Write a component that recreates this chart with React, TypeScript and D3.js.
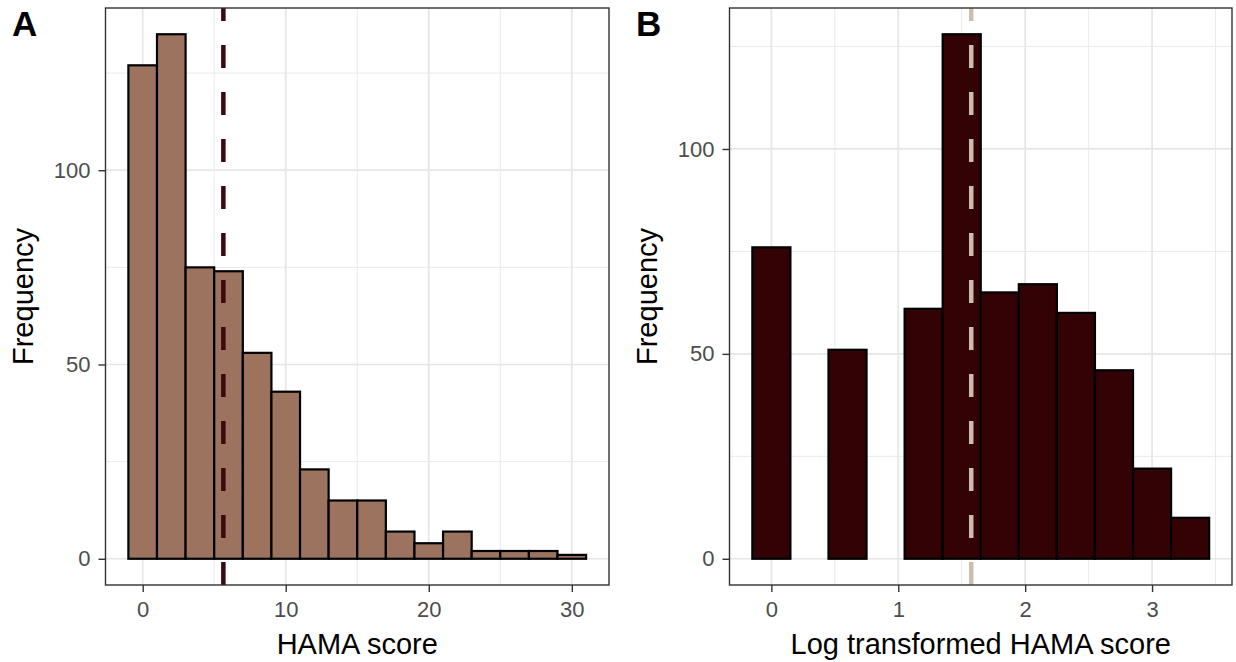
import React, { useEffect, useRef } from 'react';
import * as d3 from 'd3';

const FONT = '"Liberation Sans", Arial, Helvetica, sans-serif';

// panel A: raw HAMA score, binwidth 2
const hamaCenters = [0, 2, 4, 6, 8, 10, 12, 14, 16, 18, 20, 22, 24, 26, 28, 30];
const hamaCounts = [127, 135, 75, 74, 53, 43, 23, 15, 15, 7, 4, 7, 2, 2, 2, 1];
const hamaBinWidth = 2;
const hamaMean = 5.64;
const hamaTicks = [0, 10, 20, 30];
const hamaMinor = [5, 15, 25];

// panel B: log transformed HAMA score, binwidth 0.3
const logCenters = [0, 0.3, 0.6, 0.9, 1.2, 1.5, 1.8, 2.1, 2.4, 2.7, 3.0, 3.3];
const logCounts = [76, 0, 51, 0, 61, 128, 65, 67, 60, 46, 22, 10];
const logBinWidth = 0.3;
const logMean = 1.575;
const logTicks = [0, 1, 2, 3];
const logMinor = [0.5, 1.5, 2.5, 3.5];

const freqTicks = [0, 50, 100];
const freqMinor = [25, 75, 125];

function Histogram(props) {
  const {
    centers, counts, binWidth, mean, xTicks, xMinor,
    left, right, top, bottom, fill, lineColor, xTitle, tag, tagX, yTitleX,
  } = props;
  const axisX = useRef(null);
  const axisY = useRef(null);

  const lo = d3.min(centers) - binWidth / 2;
  const hi = d3.max(centers) + binWidth / 2;
  const padX = (hi - lo) * 0.05;
  const x = d3.scaleLinear().domain([lo - padX, hi + padX]).range([left, right]);
  const yMax = d3.max(counts);
  const y = d3.scaleLinear().domain([-yMax * 0.05, yMax * 1.05]).range([bottom, top]);

  useEffect(() => {
    const gx = d3.select(axisX.current)
      .call(d3.axisBottom(x).tickValues(xTicks).tickFormat(d3.format('~g')).tickSize(7).tickPadding(9));
    gx.select('.domain').remove();
    gx.attr('font-size', 22).attr('font-family', FONT);
    gx.selectAll('line').attr('stroke', '#333333').attr('stroke-width', 1.4);
    gx.selectAll('text').attr('fill', '#4d4d4d');

    const gy = d3.select(axisY.current)
      .call(d3.axisLeft(y).tickValues(freqTicks).tickFormat(d3.format('d')).tickSize(7).tickPadding(8));
    gy.select('.domain').remove();
    gy.attr('font-size', 22).attr('font-family', FONT);
    gy.selectAll('line').attr('stroke', '#333333').attr('stroke-width', 1.4);
    gy.selectAll('text').attr('fill', '#4d4d4d');
  });

  return (
    <g>
      <rect x={left} y={top} width={right - left} height={bottom - top} fill="#ffffff" />
      {xMinor.map(v => (
        <line key={'xm' + v} x1={x(v)} x2={x(v)} y1={top} y2={bottom} stroke="#e8e8e8" strokeWidth={0.9} />
      ))}
      {freqMinor.map(v => (
        <line key={'ym' + v} x1={left} x2={right} y1={y(v)} y2={y(v)} stroke="#e8e8e8" strokeWidth={0.9} />
      ))}
      {xTicks.map(v => (
        <line key={'xg' + v} x1={x(v)} x2={x(v)} y1={top} y2={bottom} stroke="#e6e6e6" strokeWidth={1.7} />
      ))}
      {freqTicks.map(v => (
        <line key={'yg' + v} x1={left} x2={right} y1={y(v)} y2={y(v)} stroke="#e6e6e6" strokeWidth={1.7} />
      ))}
      {centers.map((c, i) => (
        <rect
          key={'bar' + i}
          x={x(c - binWidth / 2)}
          y={y(counts[i])}
          width={x(c + binWidth / 2) - x(c - binWidth / 2)}
          height={y(0) - y(counts[i])}
          fill={fill}
          stroke="#000000"
          strokeWidth={2.2}
        />
      ))}
      <line
        x1={x(mean)} x2={x(mean)} y1={bottom} y2={top}
        stroke={lineColor} strokeWidth={4.5} strokeDasharray="23 24"
      />
      <rect x={left} y={top} width={right - left} height={bottom - top} fill="none" stroke="#333333" strokeWidth={1.4} />
      <g ref={axisX} transform={`translate(0, ${bottom})`} />
      <g ref={axisY} transform={`translate(${left}, 0)`} />
      <text x={(left + right) / 2} y={654} textAnchor="middle" fontSize={29} fontFamily={FONT} fill="#000">
        {xTitle}
      </text>
      <text
        transform={`translate(${yTitleX}, ${(top + bottom) / 2}) rotate(-90)`}
        textAnchor="middle" fontSize={29} fontFamily={FONT} fill="#000"
      >
        Frequency
      </text>
      <text x={tagX} y={36} fontSize={35} fontWeight="bold" fontFamily={FONT} fill="#000">
        {tag}
      </text>
    </g>
  );
}

export default function App() {
  return (
    <svg
      width={1236}
      height={662}
      viewBox="0 0 1236 662"
      style={{ position: 'absolute', left: 0, top: 0, background: '#fff' }}
    >
      <rect x={0} y={0} width={1236} height={662} fill="#ffffff" />
      <Histogram
        centers={hamaCenters}
        counts={hamaCounts}
        binWidth={hamaBinWidth}
        mean={hamaMean}
        xTicks={hamaTicks}
        xMinor={hamaMinor}
        left={105.5}
        right={609}
        top={8}
        bottom={585}
        fill="#9b735e"
        lineColor="#3f0710"
        xTitle="HAMA score"
        tag="A"
        tagX={12}
        yTitleX={33}
      />
      <Histogram
        centers={logCenters}
        counts={logCounts}
        binWidth={logBinWidth}
        mean={logMean}
        xTicks={logTicks}
        xMinor={logMinor}
        left={729.5}
        right={1232}
        top={8}
        bottom={585}
        fill="#320205"
        lineColor="#cbbeac"
        xTitle="Log transformed HAMA score"
        tag="B"
        tagX={636}
        yTitleX={657}
      />
    </svg>
  );
}
